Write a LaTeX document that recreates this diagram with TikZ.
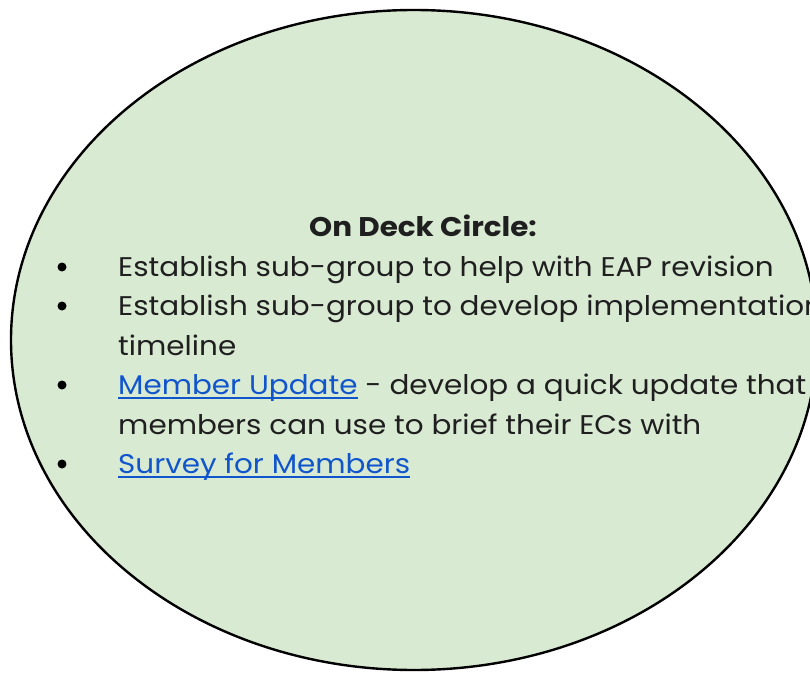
\documentclass[tikz,border=0pt]{standalone}
\usepackage{fontspec}
\setmainfont[FakeStretch=1.09]{Poppins}
\usepackage{xcolor}
\usetikzlibrary{positioning,calc,shapes.geometric}
\definecolor{deckgreen}{HTML}{D9EAD3}
\definecolor{linkblue}{HTML}{1155CC}
\definecolor{inktext}{HTML}{1F1F1F}
\newcommand{\lnk}[1]{\textcolor{linkblue}{\setbox0\hbox{#1}\rlap{\rule[-4.5pt]{\wd0}{1.6pt}}\box0}}
\tikzset{
  line/.style={anchor=base west,inner sep=0pt,text=inktext,font=\fontsize{27}{32}\selectfont},
  dot/.style={circle,fill=black,inner sep=0pt,minimum size=9pt}
}

\begin{document}
\begin{tikzpicture}[x=1pt,y=1pt]
\useasboundingbox (0,0) rectangle (810,673);
\node (deck) at (414,333) [ellipse,draw,line width=2.4pt,fill=deckgreen,
  minimum width=806,minimum height=660] {};
\node (title) at (423,436) [anchor=base,inner sep=0pt,text=inktext,
  font=\fontsize{27}{32}\selectfont\bfseries] {On Deck Circle:};

\node (b1) at (62,406) [dot] {};
\node (b2) at (62,367) [dot] {};
\node (b3) at (62,288) [dot] {};
\node (b4) at (62,209) [dot] {};

\node (t1) at (118,397) [line] {Establish sub-group to help with EAP revision};
\node (t2) at (118,358) [line] {Establish sub-group to develop implementation};
\node (t3) at (118,318) [line] {timeline};
\node (t4) at (118,279) [line] {\lnk{Member Update} - develop a quick update that};
\node (t5) at (118,239) [line] {members can use to brief their ECs with};
\node (t6) at (118,200) [line] {\lnk{Survey for Members}};

\end{tikzpicture}
\end{document}
